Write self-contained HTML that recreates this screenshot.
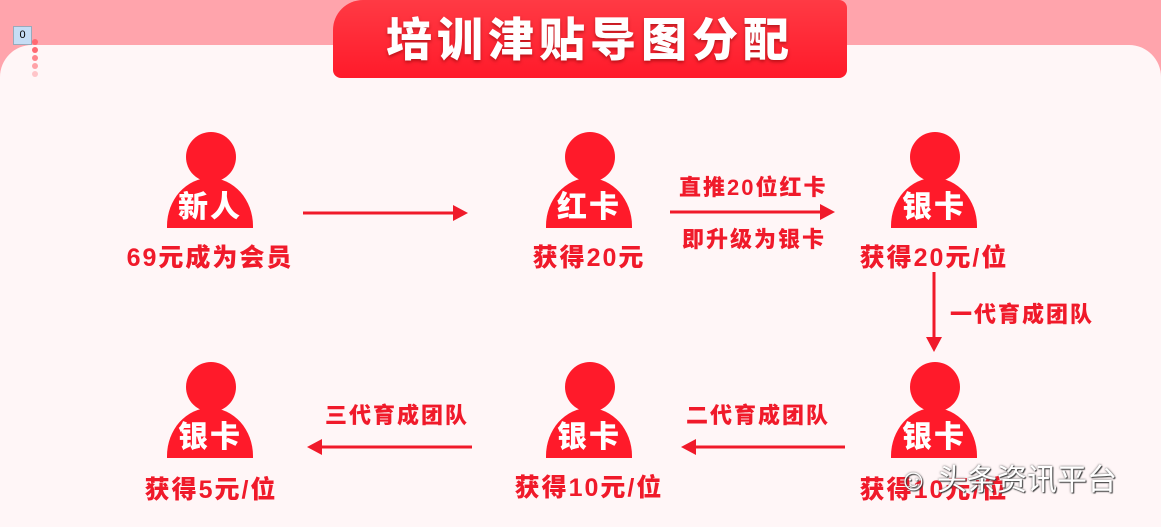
<!DOCTYPE html>
<html style="overflow:hidden;height:527px"><head><meta charset="utf-8"><style>
body{margin:0;width:1161px;height:527px;overflow:hidden;background:#ffa4ac;position:relative;font-family:"Liberation Sans","Noto Sans CJK SC",sans-serif;}
.card{position:absolute;left:0;top:45px;width:1161px;height:482px;background:#fff6f7;border-radius:32px 32px 0 0;}
.banner{position:absolute;left:333px;top:0;width:514px;height:78px;background:linear-gradient(#ff3a44,#ff1a2a);border-radius:30px 8px 8px 8px;color:#fff;font-weight:900;font-size:46px;text-align:center;line-height:80px;letter-spacing:5px;text-shadow:0 2px 3px rgba(120,0,0,.5);}
.p{position:absolute;width:100px;height:100px;}
.p .h{position:absolute;left:26px;top:0;width:50px;height:50px;border-radius:50%;background:#ff1a2a;}
.p .b{position:absolute;left:7px;top:46px;width:86px;height:50px;border-radius:43px 43px 0 0 / 48px 48px 0 0;background:#ff1a2a;color:#fff;font-weight:900;font-size:30px;text-align:center;line-height:60px;letter-spacing:2px;}
.l{position:absolute;color:#f01a2a;font-weight:900;font-size:25px;white-space:nowrap;transform:translateX(-50%);letter-spacing:2px;}
.t{position:absolute;color:#f01a2a;font-weight:900;font-size:22px;white-space:nowrap;letter-spacing:2px;}
</style></head><body>
<div class="card"></div>
<div class="banner">培训津贴导图分配</div>
<div style="position:absolute;left:13px;top:26px;width:17px;height:17px;background:#c6ddf5;border:1px solid #9ab;font-size:11px;text-align:center;line-height:17px">0</div>
<svg style="position:absolute;left:0;top:0" width="1161" height="527">
<g fill="#ff6a72"><circle cx="35" cy="42" r="3"/><circle cx="35" cy="50" r="3"/><circle cx="35" cy="58" r="3" opacity=".8"/><circle cx="35" cy="66" r="3" opacity=".6"/><circle cx="35" cy="74" r="3" opacity=".35"/></g>
<g stroke="#f01a2a" stroke-width="3" fill="#f01a2a">
<line x1="303" y1="213" x2="455" y2="213"/><polygon points="453,205 468,213 453,221" stroke="none"/>
<line x1="670" y1="212" x2="822" y2="212"/><polygon points="820,204 835,212 820,220" stroke="none"/>
<line x1="934" y1="272" x2="934" y2="340"/><polygon points="926,337 934,352 942,337" stroke="none"/>
<line x1="845" y1="447" x2="694" y2="447"/><polygon points="696,439 681,447 696,455" stroke="none"/>
<line x1="472" y1="447" x2="320" y2="447"/><polygon points="322,439 307,447 322,455" stroke="none"/>
</g></svg>
<div class="p" style="left:160px;top:132px"><div class="h"></div><div class="b">新人</div></div>
<div class="p" style="left:539px;top:132px"><div class="h"></div><div class="b">红卡</div></div>
<div class="p" style="left:884px;top:132px"><div class="h"></div><div class="b">银卡</div></div>
<div class="p" style="left:160px;top:362px"><div class="h"></div><div class="b">银卡</div></div>
<div class="p" style="left:539px;top:362px"><div class="h"></div><div class="b">银卡</div></div>
<div class="p" style="left:884px;top:362px"><div class="h"></div><div class="b">银卡</div></div>
<div class="l" style="left:210px;top:238px">69元成为会员</div>
<div class="l" style="left:589px;top:238px">获得20元</div>
<div class="l" style="left:934px;top:238px">获得20元/位</div>
<div class="l" style="left:211px;top:470px">获得5元/位</div>
<div class="l" style="left:589px;top:468px">获得10元/位</div>
<div class="l" style="left:934px;top:470px">获得10元/位</div>
<div class="t" style="left:679px;top:170px">直推20位红卡</div>
<div class="t" style="left:682px;top:222px">即升级为银卡</div>
<div class="t" style="left:950px;top:297px">一代育成团队</div>
<div class="t" style="left:686px;top:398px">二代育成团队</div>
<div class="t" style="left:325px;top:398px">三代育成团队</div>
<div style="position:absolute;left:898px;top:455px;font-size:30px;color:#fff;text-shadow:0 0 2px #555,1px 1px 1px #333;white-space:nowrap">☺ 头条资讯平台</div>
</body></html>
